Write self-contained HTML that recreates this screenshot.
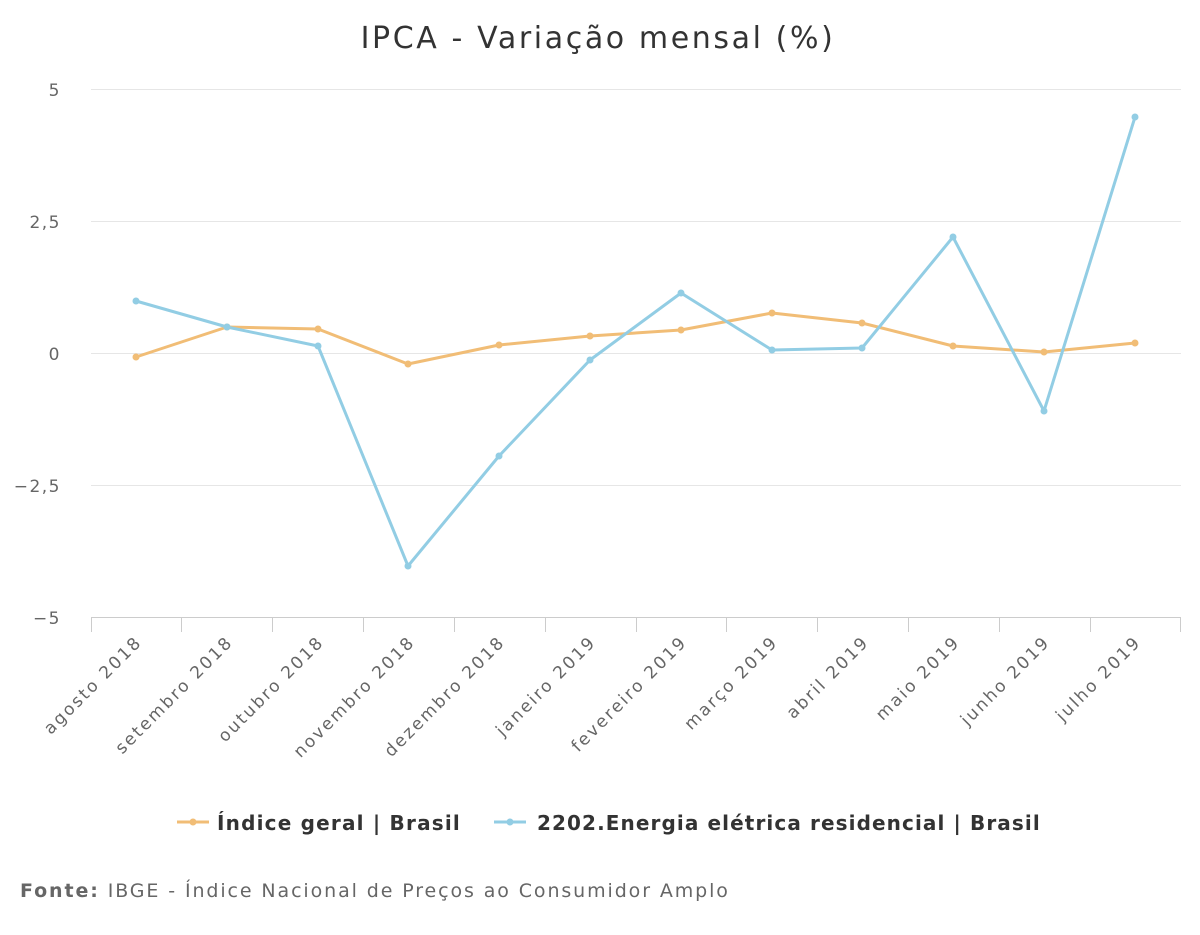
<!DOCTYPE html>
<html><head><meta charset="utf-8"><style>
body{margin:0;background:#fff;}
svg{display:block;font-family:"DejaVu Sans","Liberation Sans",sans-serif;}
</style></head><body>
<svg width="1200" height="935" viewBox="0 0 1200 935" xmlns="http://www.w3.org/2000/svg">
<text x="598" y="48" text-anchor="middle" font-size="30" letter-spacing="2.6" fill="#333">IPCA - Variação mensal (%)</text>
<g stroke="#e6e6e6" stroke-width="1">
<line x1="91" x2="1181" y1="89.5" y2="89.5"/>
<line x1="91" x2="1181" y1="221.5" y2="221.5"/>
<line x1="91" x2="1181" y1="353.5" y2="353.5"/>
<line x1="91" x2="1181" y1="485.5" y2="485.5"/>
</g>
<line x1="91" x2="1181" y1="617.5" y2="617.5" stroke="#ccc"/>
<g stroke="#ccc">
<line x1="91.5" x2="91.5" y1="617" y2="632"/><line x1="181.5" x2="181.5" y1="617" y2="632"/>
<line x1="272.5" x2="272.5" y1="617" y2="632"/><line x1="363.5" x2="363.5" y1="617" y2="632"/>
<line x1="454.5" x2="454.5" y1="617" y2="632"/><line x1="545.5" x2="545.5" y1="617" y2="632"/>
<line x1="636.5" x2="636.5" y1="617" y2="632"/><line x1="726.5" x2="726.5" y1="617" y2="632"/>
<line x1="817.5" x2="817.5" y1="617" y2="632"/><line x1="908.5" x2="908.5" y1="617" y2="632"/>
<line x1="999.5" x2="999.5" y1="617" y2="632"/><line x1="1090.5" x2="1090.5" y1="617" y2="632"/>
<line x1="1180.5" x2="1180.5" y1="617" y2="632"/>
</g>
<g font-size="17" fill="#666" text-anchor="end" letter-spacing="1.5">
<text x="61" y="96">5</text><text x="61" y="228">2,5</text><text x="61" y="360">0</text>
<text x="61" y="492">−2,5</text><text x="61" y="624">−5</text>
</g>
<g font-size="17" fill="#666" text-anchor="end" letter-spacing="2.2">
<text transform="translate(143,643) rotate(-45)">agosto 2018</text>
<text transform="translate(234,643) rotate(-45)">setembro 2018</text>
<text transform="translate(325,643) rotate(-45)">outubro 2018</text>
<text transform="translate(416,643) rotate(-45)">novembro 2018</text>
<text transform="translate(506,643) rotate(-45)">dezembro 2018</text>
<text transform="translate(597,643) rotate(-45)">janeiro 2019</text>
<text transform="translate(688,643) rotate(-45)">fevereiro 2019</text>
<text transform="translate(779,643) rotate(-45)">março 2019</text>
<text transform="translate(870,643) rotate(-45)">abril 2019</text>
<text transform="translate(961,643) rotate(-45)">maio 2019</text>
<text transform="translate(1051,643) rotate(-45)">junho 2019</text>
<text transform="translate(1142,643) rotate(-45)">julho 2019</text>
</g>
<polyline fill="none" stroke="#f1bd76" stroke-width="3" stroke-linejoin="round" points="136,357 227,327 318,329 408,364 499,345 590,336 681,330 772,313 862,323 953,346 1044,352 1135,343"/>
<polyline fill="none" stroke="#92cde4" stroke-width="3" stroke-linejoin="round" points="136,301 227,327 318,346 408,566 499,456 590,360 681,293 772,350 862,348 953,237 1044,411 1135,117"/>
<g fill="#f1bd76">
<circle cx="136" cy="357" r="3.5"/><circle cx="227" cy="327" r="3.5"/><circle cx="318" cy="329" r="3.5"/><circle cx="408" cy="364" r="3.5"/><circle cx="499" cy="345" r="3.5"/><circle cx="590" cy="336" r="3.5"/><circle cx="681" cy="330" r="3.5"/><circle cx="772" cy="313" r="3.5"/><circle cx="862" cy="323" r="3.5"/><circle cx="953" cy="346" r="3.5"/><circle cx="1044" cy="352" r="3.5"/><circle cx="1135" cy="343" r="3.5"/>
</g>
<g fill="#92cde4">
<circle cx="136" cy="301" r="3.5"/><circle cx="227" cy="327" r="3.5"/><circle cx="318" cy="346" r="3.5"/><circle cx="408" cy="566" r="3.5"/><circle cx="499" cy="456" r="3.5"/><circle cx="590" cy="360" r="3.5"/><circle cx="681" cy="293" r="3.5"/><circle cx="772" cy="350" r="3.5"/><circle cx="862" cy="348" r="3.5"/><circle cx="953" cy="237" r="3.5"/><circle cx="1044" cy="411" r="3.5"/><circle cx="1135" cy="117" r="3.5"/>
</g>
<line x1="177" x2="209" y1="822" y2="822" stroke="#f1bd76" stroke-width="3"/><circle cx="193" cy="822" r="3.5" fill="#f1bd76"/>
<text x="217" y="830" font-size="20" font-weight="bold" letter-spacing="1.2" fill="#333">Índice geral | Brasil</text>
<line x1="494" x2="526" y1="822" y2="822" stroke="#92cde4" stroke-width="3"/><circle cx="510" cy="822" r="3.5" fill="#92cde4"/>
<text x="537" y="830" font-size="20" font-weight="bold" letter-spacing="1.1" fill="#333">2202.Energia elétrica residencial | Brasil</text>
<text x="20" y="897" font-size="19" letter-spacing="1.9" fill="#666"><tspan font-weight="bold">Fonte:</tspan> IBGE - Índice Nacional de Preços ao Consumidor Amplo</text>
</svg>
</body></html>
